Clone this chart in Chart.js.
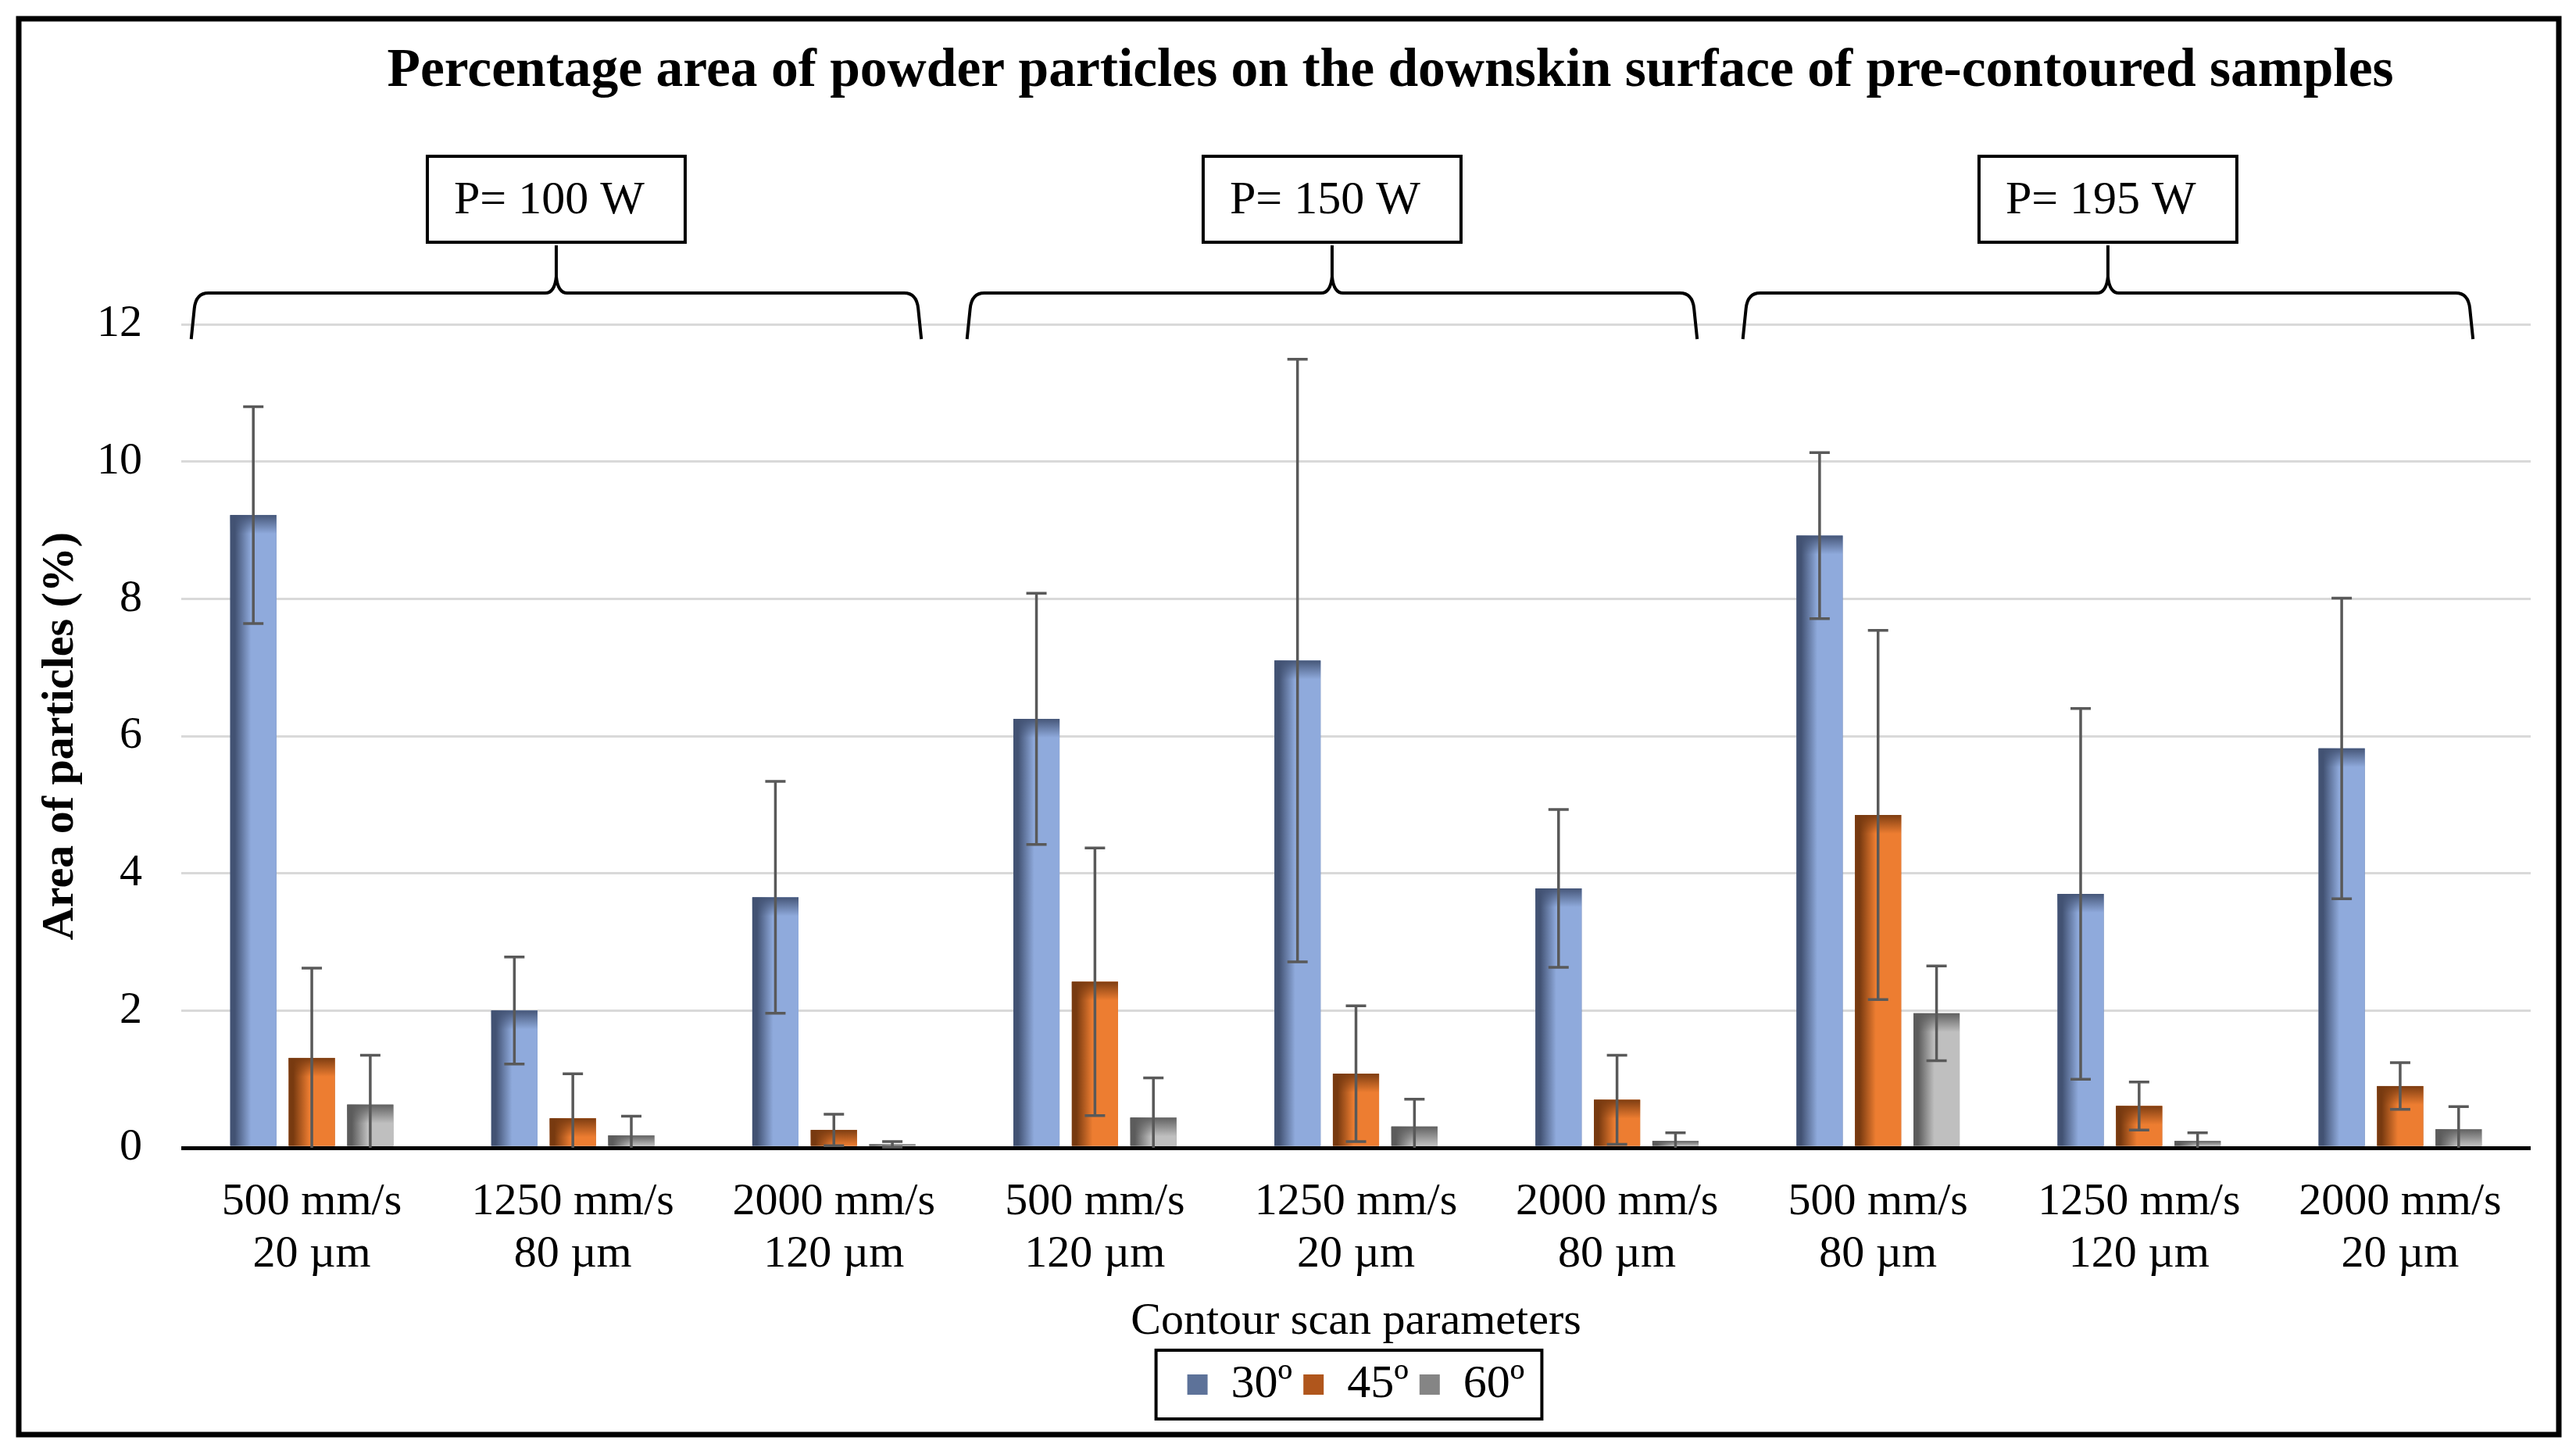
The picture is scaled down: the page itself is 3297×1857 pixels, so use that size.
<!DOCTYPE html>
<html>
<head>
<meta charset="utf-8">
<script src="https://cdn.jsdelivr.net/npm/chart.js@4.4.1/dist/chart.umd.min.js"></script>
<style>
html, body { margin: 0; padding: 0; background: #fff; overflow: hidden; }
#wrap { position: absolute; left: 0; top: 0; width: 3297px; height: 1857px; }
</style>
</head>
<body>
<div id="wrap"><canvas id="graphParticules"></canvas></div>
<script>
// categories (scan speed / hatch) and the three build angles
const categories = [
    ['500 mm/s', '20 µm'], ['1250 mm/s', '80 µm'], ['2000 mm/s', '120 µm'],
    ['500 mm/s', '120 µm'], ['1250 mm/s', '20 µm'], ['2000 mm/s', '80 µm'],
    ['500 mm/s', '80 µm'], ['1250 mm/s', '120 µm'], ['2000 mm/s', '20 µm']
];
const powerLabels = ['P= 100 W', 'P= 150 W', 'P= 195 W'];
const seriesNames = ['30º', '45º', '60º'];

const area30 = [9.22, 2.00, 3.65, 6.25, 7.10, 3.78, 8.92, 3.70, 5.82];
const err30  = [1.58, 0.78, 1.69, 1.83, 4.39, 1.15, 1.21, 2.70, 2.19];
const area45 = [1.31, 0.43, 0.26, 2.42, 1.08, 0.70, 4.85, 0.61, 0.90];
const err45  = [1.31, 0.65, 0.23, 1.95, 0.99, 0.65, 2.69, 0.35, 0.34];
const area60 = [0.63, 0.18, 0.05, 0.44, 0.31, 0.10, 1.96, 0.10, 0.27];
const err60  = [0.72, 0.28, 0.04, 0.58, 0.40, 0.12, 0.69, 0.12, 0.33];

const yMin = 0, yMax = 12, yStep = 2;

const titre = 'Percentage area of powder particles on the downskin surface of pre-contoured samples';
const titreY = 'Area of particles (%)';
const titreX = 'Contour scan parameters';

const police = "'Liberation Serif', 'Times New Roman', serif";
const teintes = [
    { fonce: [66, 82, 115], clair: [143, 170, 220], legende: '#5d7299' },
    { fonce: [120, 58, 16], clair: [237, 125, 49], legende: '#b0561c' },
    { fonce: [92, 92, 92], clair: [191, 191, 191], legende: '#858585' }
];
const erreurs = [err30, err45, err60];

function rgba(c, a) {
    return 'rgba(' + c[0] + ',' + c[1] + ',' + c[2] + ',' + a + ')';
}

const decor = {
    id: 'decor',
    beforeDraw(chart) {
        const c = chart.ctx;
        c.save();
        c.fillStyle = '#fff';
        c.fillRect(0, 0, chart.width, chart.height);
        c.lineWidth = 7;
        c.strokeStyle = '#000';
        c.strokeRect(24, 24, 3251, 1812);
        c.restore();
    },
    afterDatasetsDraw(chart) {
        const c = chart.ctx;
        const ys = chart.scales.y;
        c.save();
        // shaded bars, painted over each bar element
        chart.data.datasets.forEach((ds, di) => {
            const t = teintes[di];
            chart.getDatasetMeta(di).data.forEach(bar => {
                const p = bar.getProps(['x', 'y', 'base', 'width'], true);
                const left = p.x - p.width / 2;
                const h = p.base - p.y;
                const g = c.createLinearGradient(left, 0, left + p.width, 0);
                g.addColorStop(0, rgba(t.fonce, 1));
                g.addColorStop(0.1, rgba(t.fonce, 1));
                g.addColorStop(0.45, rgba(t.clair, 1));
                g.addColorStop(1, rgba(t.clair, 1));
                c.fillStyle = g;
                c.fillRect(left, p.y, p.width, h);
                const bande = Math.min(24, h);
                const g2 = c.createLinearGradient(0, p.y, 0, p.y + bande);
                g2.addColorStop(0, rgba(t.fonce, 0.95));
                g2.addColorStop(1, rgba(t.fonce, 0));
                c.fillStyle = g2;
                c.fillRect(left, p.y, p.width, bande);
            });
        });
        // error bars
        c.strokeStyle = '#595959';
        c.lineWidth = 3.5;
        chart.data.datasets.forEach((ds, di) => {
            chart.getDatasetMeta(di).data.forEach((bar, i) => {
                const v = ds.data[i], e = erreurs[di][i];
                const x = bar.x;
                const yh = ys.getPixelForValue(v + e);
                const yl = ys.getPixelForValue(Math.max(yMin, v - e));
                c.beginPath();
                c.moveTo(x, yh); c.lineTo(x, yl);
                c.moveTo(x - 13, yh); c.lineTo(x + 13, yh);
                if (v - e > yMin) { c.moveTo(x - 13, yl); c.lineTo(x + 13, yl); }
                c.stroke();
            });
        });
        c.restore();
    },
    afterDraw(chart) {
        const c = chart.ctx;
        const xs = chart.scales.x;
        const area = chart.chartArea;
        c.save();
        // title
        c.fillStyle = '#000';
        c.font = 'bold 69.5px ' + police;
        c.textAlign = 'center';
        c.textBaseline = 'middle';
        c.fillText(titre, (area.left + area.right) / 2 + 44, 92);

        // braces and power boxes
        const cw = xs.getPixelForValue(1) - xs.getPixelForValue(0);
        c.strokeStyle = '#000';
        c.lineWidth = 4;
        powerLabels.forEach((lab, g) => {
            const l = area.left + (0.044 + 2.972 * g) * cw;
            const r = l + 2.785 * cw;
            const m = (l + r) / 2;
            const yH = 375, yBas = 434, yPointe = 354, yTige = 314;
            c.beginPath();
            c.moveTo(l - 2, yBas);
            c.lineTo(l + 2, yH + 20);
            c.quadraticCurveTo(l + 4, yH, l + 20, yH);
            c.lineTo(m - 14, yH);
            c.quadraticCurveTo(m - 2, yH, m, yPointe);
            c.quadraticCurveTo(m + 2, yH, m + 14, yH);
            c.lineTo(r - 20, yH);
            c.quadraticCurveTo(r - 4, yH, r - 2, yH + 20);
            c.lineTo(r + 2, yBas);
            c.moveTo(m, yPointe);
            c.lineTo(m, yTige);
            c.stroke();

            const bw = 330, bh = 110, bt = 200;
            c.lineWidth = 4;
            c.strokeRect(m - bw / 2, bt, bw, bh);
            c.font = '60px ' + police;
            c.textAlign = 'left';
            c.fillText(lab, m - bw / 2 + 34, bt + bh / 2 + 2);
        });

        // frame round the legend
        const hb = chart.legend.legendHitBoxes;
        if (hb && hb.length) {
            const cy = hb[0].top + hb[0].height / 2;
            const l = hb[0].left - 40;
            const r = hb[hb.length - 1].left + hb[hb.length - 1].width + 22;
            c.lineWidth = 4;
            c.strokeRect(l, cy - 44, r - l, 88);
        }
        c.restore();
    }
};

Chart.defaults.font.family = police;
Chart.defaults.color = '#000';

new Chart(document.getElementById('graphParticules').getContext('2d'), {
    type: 'bar',
    data: {
        labels: categories,
        datasets: [
            { label: seriesNames[0], data: area30, backgroundColor: teintes[0].legende, borderWidth: 0 },
            { label: seriesNames[1], data: area45, backgroundColor: teintes[1].legende, borderWidth: 0 },
            { label: seriesNames[2], data: area60, backgroundColor: teintes[2].legende, borderWidth: 0 }
        ]
    },
    options: {
        responsive: true,
        maintainAspectRatio: false,
        devicePixelRatio: 1,
        animation: false,
        categoryPercentage: 0.672,
        barPercentage: 0.79,
        layout: { padding: { top: 415, left: 30, right: 58, bottom: 45 } },
        plugins: {
            title: { display: false },
            tooltip: { enabled: false },
            legend: {
                position: 'bottom',
                fullSize: false,
                labels: { boxWidth: 26, boxHeight: 26, padding: 14, font: { size: 60 }, color: '#000' }
            }
        },
        scales: {
            x: {
                grid: { display: false },
                border: { display: false },
                ticks: { font: { size: 58, lineHeight: 1.16 }, padding: 28, maxRotation: 0, autoSkip: false, color: '#000' },
                title: { display: true, text: titreX, font: { size: 58 }, padding: { top: 0, bottom: 1 }, color: '#000' },
                afterFit: s => { s.height = 259; }
            },
            y: {
                min: yMin,
                max: yMax,
                ticks: { stepSize: yStep, font: { size: 58 }, padding: 50, color: '#000' },
                grid: {
                    drawTicks: false,
                    color: ctx => ctx.tick && ctx.tick.value === 0 ? '#000' : '#d9d9d9',
                    lineWidth: ctx => ctx.tick && ctx.tick.value === 0 ? 5 : 3
                },
                border: { display: false },
                title: { display: true, text: titreY, font: { size: 58, weight: 'bold' }, padding: { top: 13, bottom: 0 }, color: '#000' },
                afterFit: s => { s.width = 202; }
            }
        }
    },
    plugins: [decor]
});
</script>
</body>
</html>
